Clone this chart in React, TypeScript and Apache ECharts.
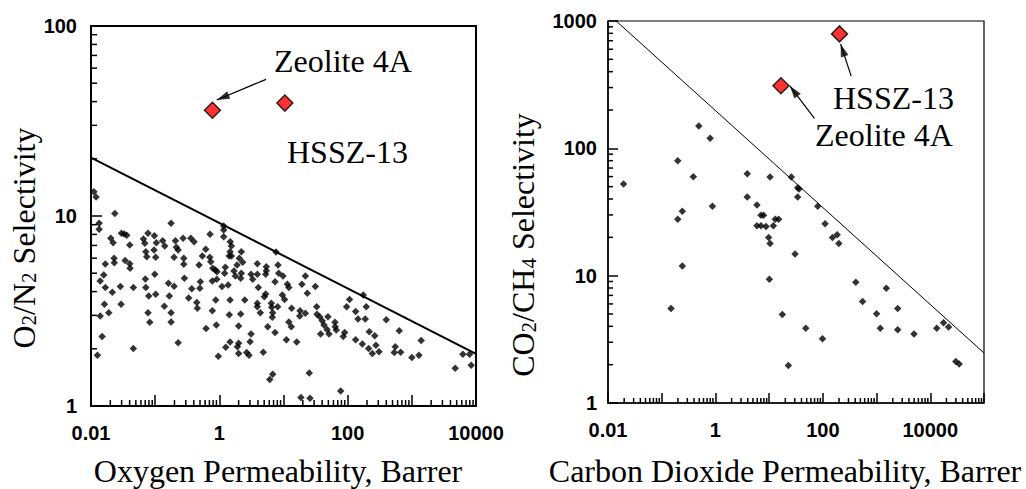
import React, { useEffect, useRef } from 'react';
import * as echarts from 'echarts';

// ---------------- Data ----------------
const o2Permeability = [
  0.0111, 0.012, 0.0134, 0.0134, 0.0235, 0.0203, 0.0221, 0.0298, 0.0328, 0.0361,
  0.0402, 0.0229, 0.0231, 0.0167, 0.034, 0.0402, 0.0406, 0.0158, 0.0139, 0.0167,
  0.0215, 0.0287, 0.0457, 0.0162, 0.0189, 0.0139, 0.0294, 0.0149, 0.0126, 0.0457,
  0.0655, 0.0689, 0.0774, 0.0973, 0.1045, 0.131, 0.141, 0.0715, 0.074, 0.0962,
  0.102, 0.0703, 0.0715, 0.0794, 0.0986, 0.102, 0.0774, 0.0824, 0.139, 0.161,
  0.166, 0.197, 0.177, 0.177, 0.177, 0.207, 0.214, 0.228, 0.272, 0.279,
  0.279, 0.197, 0.228, 0.285, 0.333, 0.359, 0.404, 0.372, 0.445, 0.454,
  0.483, 0.506, 0.496, 0.543, 0.614, 0.621, 0.716, 0.711, 0.735, 0.789,
  0.867, 0.92, 0.778, 0.912, 0.879, 0.778, 0.897, 0.964,
  1.17, 1.17, 1.17, 1.48, 1.54, 1.47, 1.42, 1.54, 2.2, 2.05,
  2.31, 1.89, 1.24, 1.21, 1.69, 1.78, 2.2, 2.15, 1.37, 1.1,
  3.12, 3.31, 3.91, 3.91, 5.4, 5.4, 5.28, 4.05, 7.38, 8.21,
  8.42, 9.82, 11.5, 12.1, 7.64, 5.28, 5.02, 1.47, 2.49, 1.43,
  2.15, 3.91, 3.91, 4.35, 6.46, 6.55, 6.79, 6.69, 8.12, 9.58,
  10.4, 13.4, 18.1, 17.9, 21.9, 12.1, 13.2, 2.0, 5.68, 7.38,
  3.12, 3.01, 11.1, 16.1, 1.47, 1.26, 2.0, 1.91, 2.0, 2.67,
  2.9, 4.84, 6.79, 6.1, 25.2, 18.7, 25.9, 77.8, 21.9, 19.4,
  31.3, 23.5, 32.9, 33.3, 36.6, 40.2, 42.8, 49.3, 47.6, 51.2,
  37.9, 63.4, 63.9, 66.4, 89.8, 85.4, 96.4, 107,
  175, 195, 133, 145, 188, 217, 264, 133, 169, 212,
  242, 276, 308, 399, 637, 551, 532, 670, 1000, 1290,
  1400, 4740, 6250, 7940, 8410,
];
const o2n2Selectivity = [
  13.4, 12.6, 9.15, 8.51, 10.3, 7.63, 7.24, 8.11, 8.04, 7.91,
  7.03, 5.99, 5.68, 5.59, 5.84, 5.61, 5.31, 4.89, 4.55, 4.2,
  3.97, 4.25, 4.2, 3.43, 3.1, 2.98, 3.43, 2.32, 1.85, 2.01,
  7.57, 7.18, 8.11, 7.88, 7.24, 7.41, 6.95, 6.49, 6.11, 6.62,
  6.06, 4.66, 4.2, 3.79, 4.93, 3.87, 3.1, 2.76, 3.35, 4.42,
  3.79, 4.27, 3.1, 2.77, 9.15, 7.41, 6.84, 6.62, 7.63, 5.99,
  5.57, 6.06, 2.15, 4.7, 3.7, 7.63, 7.32, 4.14, 3.51, 3.27,
  5.52, 4.51, 4.16, 6.16, 6.68, 2.56, 8.01, 6.06, 5.75, 5.31,
  5.2, 5.09, 4.55, 4.64, 3.61, 3.17, 2.67, 1.83,
  8.86, 8.44, 7.78, 7.32, 6.95, 6.49, 6.16, 6.16, 6.49, 5.99,
  5.71, 5.52, 5.37, 4.99, 5.13, 4.83, 4.99, 4.7, 4.33, 4.25,
  4.93, 4.64, 5.61, 4.93, 5.41, 5.15, 4.93, 4.21, 4.51, 5.52,
  4.99, 4.83, 4.37, 4.21, 6.47, 3.89, 3.76, 3.61, 3.61, 3.02,
  3.05, 3.47, 3.33, 3.1, 3.47, 3.31, 3.1, 2.93, 3.33, 3.84,
  3.63, 3.27, 3.17, 2.98, 3.08, 2.77, 2.61, 2.64, 2.61, 2.44,
  2.39, 2.18, 2.23, 2.17, 2.17, 2.04, 2.14, 2.05, 1.89, 1.91,
  1.85, 1.92, 1.47, 1.38, 1.49, 1.11, 1.1, 1.2, 4.83, 4.37,
  4.25, 3.92, 3.33, 3.04, 2.95, 2.81, 2.67, 2.95, 2.53, 2.39,
  2.39, 2.76, 2.61, 2.51, 2.44, 2.32, 3.33, 3.64,
  3.84, 3.33, 3.14, 2.87, 2.87, 2.46, 2.34, 2.23, 2.12, 2.01,
  1.89, 2.09, 1.93, 2.84, 2.49, 2.05, 1.91, 1.92, 1.8, 1.85,
  2.21, 1.58, 1.87, 1.87, 1.64,
];

const co2Permeability = [
  0.0195, 0.149, 0.199, 0.199, 0.242, 0.242, 0.388, 0.49, 0.796, 0.88,
  3.91, 3.91, 5.93, 5.93, 7.05, 7.05, 7.87, 8.73, 9.77, 10.4,
  10.4, 12.0, 13.0, 15.0, 10.1, 17.6, 22.8, 25.9, 30.4, 34.0,
  36.1, 34.0, 48.0, 80.4, 98.4, 110, 151, 185, 198, 411,
  549, 1000, 1175, 1520, 2470, 2470, 4980, 13200, 17600, 21900,
  29900, 34500,
];
const co2ch4Selectivity = [
  52.5, 5.52, 80, 27.7, 32.1, 11.9, 59.9, 150, 120, 35.1,
  63.2, 41.5, 35.9, 24.7, 24.7, 29.8, 29.8, 24.3, 19.9, 17.9,
  59.6, 24.7, 27.7, 27.7, 9.39, 4.95, 1.97, 59.6, 14.8, 49.1,
  48.0, 41.5, 3.87, 35.1, 3.19, 25.6, 19.9, 21.0, 17.9, 8.89,
  6.26, 5.02, 3.87, 7.98, 5.52, 3.76, 3.48, 3.87, 4.26, 3.95,
  2.12, 2.02,
];

const zeoliteNames = ['Zeolite 4A', 'HSSZ-13'];
const o2ZeolitePerm = [0.78, 10.5];
const o2ZeoliteSel = [36, 39.3];
const co2ZeolitePerm = [16.6, 204];
const co2ZeoliteSel = [310, 792];

const o2BoundPerm = [0.01, 10000];
const o2BoundSel = [20.3, 1.88];
const co2BoundPerm = [0.0142, 100000];
const co2BoundSel = [1000, 2.47];

// arrows: [fromX, fromY, toX (tip), toY (tip)]
const o2Arrows = [[5.34, 52.4, 0.91, 40.8]];
const co2Arrows = [
  [337, 369, 214, 660],
  [69.7, 172, 24.2, 310],
];

const leftXTickLabels = ['0.01', '1', '100', '10000'];
const leftYTickLabels = ['1', '10', '100'];
const rightXTickLabels = ['0.01', '1', '100', '10000'];
const rightYTickLabels = ['1', '10', '100', '1000'];

// ---------------- Helpers ----------------
const SERIF = 'Liberation Serif';
const SANS = 'Liberation Sans';
const HEAD_LEN = 13;
const HEAD_WIDTH = 8;

const fmt = (labels: string[]) => (v: number) => {
  const hit = labels.find((l) => Math.abs(Number(l) - v) <= Number(l) * 1e-6);
  return hit ?? '';
};

const minorValues = (minExp: number, maxExp: number) => {
  const out: number[] = [];
  for (let e = minExp; e < maxExp; e++) {
    for (let m = 2; m <= 9; m++) out.push(m * Math.pow(10, e));
  }
  return out;
};

const tickLabelStyle = {
  fontFamily: SANS,
  fontWeight: 'bold' as const,
  fontSize: 20,
  color: '#000',
  showMinLabel: true,
  showMaxLabel: true,
  hideOverlap: false,
};

function xAxisDef(grid: number, min: number, max: number, labels: string[], name: string, lw: number, tickLen: number, pad: number, margin: number, nameGap: number) {
  return {
    type: 'log',
    logBase: 10,
    gridIndex: grid,
    position: 'bottom',
    min,
    max,
    axisLine: { show: true, onZero: false, lineStyle: { color: '#000', width: lw } },
    axisTick: { show: true, inside: true, length: tickLen, lineStyle: { color: '#000', width: 1.5 } },
    minorTick: { show: false },
    splitLine: { show: false },
    axisLabel: { ...tickLabelStyle, margin, formatter: fmt(labels) },
    name,
    nameLocation: 'middle',
    nameGap,
    nameTextStyle: { fontFamily: SERIF, fontSize: 32, color: '#000', padding: [0, pad, 0, 0] },
  };
}

function yAxisDef(grid: number, min: number, max: number, labels: string[], name: string, lw: number, tickLen: number, nameGap: number, margin: number, shift: number) {
  return {
    type: 'log',
    logBase: 10,
    gridIndex: grid,
    position: 'left',
    min,
    max,
    axisLine: { show: true, onZero: false, lineStyle: { color: '#000', width: lw } },
    axisTick: { show: true, inside: true, length: tickLen, lineStyle: { color: '#000', width: 1.5 } },
    minorTick: { show: false },
    splitLine: { show: false },
    axisLabel: { ...tickLabelStyle, margin, formatter: fmt(labels) },
    name,
    nameLocation: 'middle',
    nameGap,
    nameTextStyle: {
      fontFamily: SERIF,
      fontSize: 32,
      color: '#000',
      padding: [0, shift, 0, 0],
      rich: {
        n: { fontFamily: SERIF, fontSize: 32, color: '#000' },
        s: { fontFamily: SERIF, fontSize: 21, color: '#000', verticalAlign: 'bottom', lineHeight: 10 },
      },
    },
  };
}

function minorTickSeries(grid: number, values: number[], fixed: number, horizontal: boolean, len: number) {
  return {
    type: 'custom',
    xAxisIndex: grid,
    yAxisIndex: grid,
    silent: true,
    clip: false,
    z: 20,
    data: values.map((v) => (horizontal ? [fixed, v] : [v, fixed])),
    renderItem: (_p: any, api: any) => {
      const c = api.coord([api.value(0), api.value(1)]);
      return {
        type: 'line',
        shape: horizontal
          ? { x1: c[0], y1: c[1], x2: c[0] + len, y2: c[1] }
          : { x1: c[0], y1: c[1], x2: c[0], y2: c[1] - len },
        style: { stroke: '#000', lineWidth: 1.5, fill: null },
      };
    },
  };
}

function arrowLines(arrows: number[][]) {
  return {
    silent: true,
    symbol: ['none', 'none'],
    label: { show: false },
    emphasis: { disabled: true },
    lineStyle: { color: '#000', width: 1.2, type: 'solid' },
    data: arrows.map((a) => [{ coord: [a[0], a[1]] }, { coord: [a[2], a[3]] }]),
  };
}

function annotation(text: string, left: number, top: number) {
  return {
    text,
    left,
    top,
    padding: 0,
    itemGap: 0,
    textStyle: { fontFamily: SERIF, fontSize: 32, fontWeight: 'normal', color: '#000', lineHeight: 32 },
  };
}

export default function App() {
  const ref = useRef<HTMLDivElement>(null);

  useEffect(() => {
    if (!ref.current) return;
    const chart = echarts.init(ref.current, undefined, { renderer: 'svg' });

    const option: any = {
      animation: false,
      backgroundColor: '#fff',
      textStyle: { fontFamily: SERIF },
      title: [
        annotation(zeoliteNames[0], 274, 45),
        annotation(zeoliteNames[1], 287, 136),
        annotation(zeoliteNames[1], 833, 82),
        annotation(zeoliteNames[0], 815, 119),
      ],
      grid: [
        { left: 91, top: 26, width: 385, height: 380, show: true, borderColor: '#000', borderWidth: 2, outerBoundsMode: 'none', containLabel: false },
        { left: 608, top: 21, width: 376, height: 382, show: true, borderColor: '#000', borderWidth: 1.2, outerBoundsMode: 'none', containLabel: false },
      ],
      xAxis: [
        xAxisDef(0, 0.01, 10000, leftXTickLabels, 'Oxygen Permeability, Barrer', 2, 11, 11, 17, 49),
        xAxisDef(1, 0.01, 100000, rightXTickLabels, 'Carbon Dioxide Permeability, Barrer', 1.5, 10, 22, 17, 52),
      ],
      yAxis: [
        yAxisDef(0, 1, 100, leftYTickLabels, '{n|O}{s|2}{n|/N}{s|2}{n| Selectivity}', 2, 11, 51, 14, 44),
        yAxisDef(1, 1, 1000, rightYTickLabels, '{n|CO}{s|2}{n|/CH}{s|4}{n| Selectivity}', 1.5, 10, 69, 11, 66),
      ],
      series: [
        minorTickSeries(0, minorValues(-2, 4), 1, false, 6),
        minorTickSeries(0, minorValues(0, 2), 0.01, true, 6),
        minorTickSeries(1, minorValues(-2, 5), 1, false, 5),
        minorTickSeries(1, minorValues(0, 3), 0.01, true, 5),
        {
          type: 'line',
          xAxisIndex: 0,
          yAxisIndex: 0,
          silent: true,
          symbol: 'none',
          lineStyle: { color: '#000', width: 2 },
          data: o2BoundPerm.map((x, i) => [x, o2BoundSel[i]]),
        },
        {
          type: 'line',
          xAxisIndex: 1,
          yAxisIndex: 1,
          silent: true,
          symbol: 'none',
          lineStyle: { color: '#000', width: 1 },
          data: co2BoundPerm.map((x, i) => [x, co2BoundSel[i]]),
        },
        {
          type: 'scatter',
          xAxisIndex: 0,
          yAxisIndex: 0,
          symbol: 'diamond',
          symbolSize: 7.5,
          itemStyle: { color: '#000' },
          data: o2Permeability.map((x, i) => [x, o2n2Selectivity[i]]),
        },
        {
          type: 'scatter',
          xAxisIndex: 1,
          yAxisIndex: 1,
          symbol: 'diamond',
          symbolSize: 7.5,
          itemStyle: { color: '#000' },
          data: co2Permeability.map((x, i) => [x, co2ch4Selectivity[i]]),
        },
        {
          type: 'scatter',
          xAxisIndex: 0,
          yAxisIndex: 0,
          symbol: 'diamond',
          symbolSize: 16,
          z: 6,
          itemStyle: { color: '#ff0000', borderColor: '#000', borderWidth: 1.5 },
          data: o2ZeolitePerm.map((x, i) => ({ name: zeoliteNames[i], value: [x, o2ZeoliteSel[i]] })),
        },
        {
          type: 'scatter',
          xAxisIndex: 1,
          yAxisIndex: 1,
          symbol: 'diamond',
          symbolSize: 16,
          z: 6,
          itemStyle: { color: '#ff0000', borderColor: '#000', borderWidth: 1.5 },
          data: co2ZeolitePerm.map((x, i) => ({ name: zeoliteNames[i], value: [x, co2ZeoliteSel[i]] })),
        },
        {
          id: 'arrowsL',
          type: 'scatter',
          xAxisIndex: 0,
          yAxisIndex: 0,
          z: 10,
          symbol: 'triangle',
          symbolSize: [HEAD_WIDTH, HEAD_LEN],
          itemStyle: { color: '#000' },
          silent: true,
          data: [],
          markLine: arrowLines(o2Arrows),
        },
        {
          id: 'arrowsR',
          type: 'scatter',
          xAxisIndex: 1,
          yAxisIndex: 1,
          z: 10,
          symbol: 'triangle',
          symbolSize: [HEAD_WIDTH, HEAD_LEN],
          itemStyle: { color: '#000' },
          silent: true,
          data: [],
          markLine: arrowLines(co2Arrows),
        },
      ],
    };

    chart.setOption(option);

    // arrow heads: triangles whose tips sit on the arrow end points
    const heads = (grid: number, arrows: number[][]) =>
      arrows.map((a) => {
        const p1 = chart.convertToPixel({ gridIndex: grid }, [a[0], a[1]]) as number[];
        const p2 = chart.convertToPixel({ gridIndex: grid }, [a[2], a[3]]) as number[];
        const dx = p2[0] - p1[0];
        const dy = p2[1] - p1[1];
        const len = Math.hypot(dx, dy) || 1;
        const c = [p2[0] - (dx / len) * (HEAD_LEN / 2), p2[1] - (dy / len) * (HEAD_LEN / 2)];
        const v = chart.convertFromPixel({ gridIndex: grid }, c) as number[];
        const rot = (Math.atan2(-dx, -dy) * 180) / Math.PI;
        return { value: v, symbolRotate: rot };
      });

    chart.setOption({
      series: [
        { id: 'arrowsL', data: heads(0, o2Arrows) },
        { id: 'arrowsR', data: heads(1, co2Arrows) },
      ],
    });

    return () => chart.dispose();
  }, []);

  return (
    <div
      ref={ref}
      style={{ position: 'absolute', left: 0, top: 0, width: 1026, height: 489, background: '#fff' }}
    />
  );
}
